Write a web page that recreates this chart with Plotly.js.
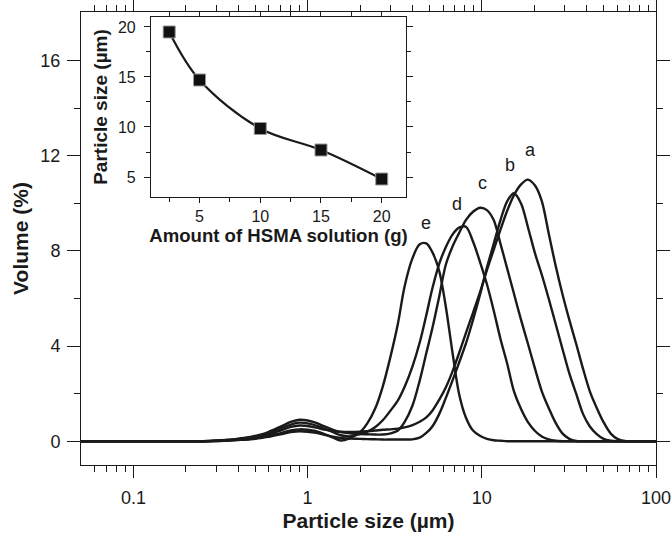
<!DOCTYPE html>
<html>
<head>
<meta charset="utf-8">
<script src="https://cdn.plot.ly/plotly-3.0.1.min.js"></script>
<style>html,body{margin:0;padding:0;background:#fff;}#chart{width:672px;height:534px;}</style>
</head>
<body>
<div id="chart"></div>
<script>
// Particle size grid (µm)
const sizes = [0.05,0.1,0.2,0.25,0.3,0.35,0.4,0.47,0.55,0.6,0.7,0.8,0.9,1.0,1.12,1.25,1.4,1.55,1.74,2.0,
  2.2,2.45,2.7,3.0,3.3,3.6,4.0,4.4,4.8,5.2,5.7,6.2,6.8,7.4,8.1,8.9,9.8,10.7,11.7,12.8,
  14.0,15.3,16.8,18.4,20.2,22.1,24.2,26.5,29.0,31.8,34.8,38.1,41.7,45.7,50.0,55.0,60.0,66.0,75.0,100.0];

// Volume (%) for samples a–e
const volA = [0,0,0,0,0.02,0.04,0.08,0.13,0.22,0.29,0.45,0.6,0.66,0.64,0.57,0.49,0.43,0.4,0.39,0.4,
  0.42,0.45,0.48,0.5,0.53,0.58,0.68,0.82,1.0,1.28,1.75,2.25,2.95,3.7,4.55,5.4,6.3,7.2,8.05,8.9,
  9.7,10.35,10.8,11.0,10.75,10.1,8.75,7.4,6.2,5.1,4.1,3.05,2.1,1.4,0.8,0.32,0.1,0.01,0,0];
const volB = [0,0,0,0,0.01,0.03,0.05,0.08,0.14,0.19,0.29,0.38,0.42,0.4,0.35,0.27,0.19,0.14,0.11,0.1,
  0.09,0.08,0.07,0.07,0.07,0.07,0.08,0.15,0.35,0.62,1.15,1.8,2.57,3.3,4.1,5.1,6.2,7.3,8.3,9.3,
  10.1,10.43,10.0,9.0,7.9,7.0,6.0,4.95,3.9,2.85,2.0,1.15,0.62,0.3,0.1,0.02,0,0,0,0];
const volC = [0,0,0,0,0.02,0.06,0.11,0.18,0.3,0.4,0.61,0.81,0.9,0.87,0.77,0.62,0.48,0.38,0.33,0.3,
  0.29,0.28,0.28,0.33,0.45,0.8,1.5,2.55,3.7,4.75,6.1,7.4,8.2,8.75,9.3,9.65,9.82,9.72,9.3,8.3,
  7.25,6.2,5.1,4.1,3.05,2.1,1.4,0.78,0.33,0.1,0.01,0,0,0,0,0,0,0,0,0];
const volD = [0,0,0,0,0.02,0.05,0.09,0.15,0.26,0.35,0.53,0.7,0.78,0.75,0.66,0.52,0.38,0.25,0.2,0.3,
  0.4,0.6,0.88,1.3,1.72,2.28,3.15,4.15,5.3,6.42,7.47,8.15,8.7,8.98,9.02,8.4,7.5,6.6,5.5,4.3,
  3.25,2.1,1.35,0.8,0.43,0.2,0.08,0.02,0,0,0,0,0,0,0,0,0,0,0,0];
const volE = [0,0,0,0,0.01,0.03,0.06,0.1,0.17,0.23,0.34,0.45,0.5,0.48,0.42,0.3,0.15,0.03,0.12,0.38,
  0.75,1.4,2.3,3.6,4.95,6.5,7.7,8.28,8.32,7.95,7.15,5.7,3.69,2.0,1.0,0.45,0.22,0.1,0.04,0.02,
  0,0,0,0,0,0,0,0,0,0,0,0,0,0,0,0,0,0,0,0];

// Curve labels
const labelNames = ['a','b','c','d','e'];
const labelX = [18.97, 14.5, 10.07, 7.24, 4.75];
const labelY = [12.25, 11.62, 10.86, 9.98, 9.18];

// Inset data
const hsmaAmount = [2.5, 5, 10, 15, 20];
const insetSize = [19.5, 14.7, 9.85, 7.7, 4.8];

// Tick labels
const mainXTicks = [0.1, 1, 10, 100];
const mainXTickText = ['0.1', '1', '10', '100'];
const mainXMinor = [0.06,0.07,0.08,0.09,0.2,0.3,0.4,0.5,0.6,0.7,0.8,0.9,2,3,4,5,6,7,8,9,20,30,40,50,60,70,80,90];
const mainYTicks = [0, 4, 8, 12, 16];
const mainYMinor = [2, 6, 10, 14];
const insetXTicks = [5, 10, 15, 20];
const insetXMinor = [2.5, 7.5, 12.5, 17.5];
const insetYTicks = [5, 10, 15, 20];
const insetYMinor = [7.5, 12.5, 17.5];

const ink = '#1a1a1a';
const series = [volA, volB, volC, volD, volE];
const traces = series.map(v => ({
  x: sizes, y: v, type: 'scatter', mode: 'lines',
  line: {color: ink, width: 2.4, shape: 'spline', smoothing: 0.9},
  xaxis: 'x', yaxis: 'y', hoverinfo: 'skip'
}));
traces.push({
  x: hsmaAmount, y: insetSize, type: 'scatter', mode: 'lines+markers',
  line: {color: ink, width: 2.2, shape: 'spline', smoothing: 1},
  marker: {symbol: 'square', size: 12, color: '#111', line: {color: '#999', width: 1}},
  xaxis: 'x2', yaxis: 'y2', hoverinfo: 'skip'
});

const font = 'Liberation Sans, Arial, Helvetica, sans-serif';
const axisCommon = {
  showline: true, linecolor: ink, linewidth: 1, mirror: 'ticks',
  ticks: 'outside', tickcolor: ink, tickwidth: 1,
  showgrid: false, zeroline: false
};

const layout = {
  width: 672, height: 534,
  margin: {l: 81, r: 16, t: 12, b: 69},
  paper_bgcolor: '#fff', plot_bgcolor: '#fff',
  showlegend: false,
  font: {family: font, color: ink},
  xaxis: Object.assign({}, axisCommon, {
    type: 'log', range: [Math.log10(0.05), 2],
    tickmode: 'array', tickvals: mainXTicks, ticktext: mainXTickText,
    ticklen: 12, tickfont: {size: 18}, ticklabelstandoff: 4,
    minor: {tickmode: 'array', tickvals: mainXMinor, ticks: 'outside', ticklen: 6, tickcolor: ink, tickwidth: 1, showgrid: false},
    title: {text: '<b>Particle size (µm)</b>', font: {size: 21}, standoff: 6}
  }),
  yaxis: Object.assign({}, axisCommon, {
    range: [-1, 18.05],
    tickmode: 'array', tickvals: mainYTicks,
    ticklen: 13, tickfont: {size: 18}, ticklabelstandoff: 3,
    minor: {tickmode: 'array', tickvals: mainYMinor, ticks: 'outside', ticklen: 6, tickcolor: ink, tickwidth: 1, showgrid: false},
    title: {text: '<b>Volume (%)</b>', font: {size: 21}, standoff: 6}
  }),
  xaxis2: Object.assign({}, axisCommon, {
    domain: [0.1217, 0.5652], anchor: 'y2', range: [1, 22],
    tickmode: 'array', tickvals: insetXTicks, ticklen: 5, tickfont: {size: 16},
    minor: {tickmode: 'array', tickvals: insetXMinor, ticks: 'outside', ticklen: 4, tickcolor: ink, tickwidth: 1, showgrid: false},
    title: {text: '<b>Amount of HSMA solution (g)</b>', font: {size: 18.6}, standoff: 3}
  }),
  yaxis2: Object.assign({}, axisCommon, {
    domain: [0.5916, 0.989], anchor: 'x2', range: [3, 21],
    tickmode: 'array', tickvals: insetYTicks, ticklen: 6, tickfont: {size: 16}, ticklabelstandoff: 5,
    minor: {tickmode: 'array', tickvals: insetYMinor, ticks: 'outside', ticklen: 4, tickcolor: ink, tickwidth: 1, showgrid: false},
    title: {text: '<b>Particle size (µm)</b>', font: {size: 19}, standoff: 5}
  }),
  annotations: labelNames.map((t, i) => ({
    x: Math.log10(labelX[i]), y: labelY[i], xref: 'x', yref: 'y',
    text: t, showarrow: false, font: {size: 18, family: font, color: ink}
  }))
};

Plotly.newPlot('chart', traces, layout, {displayModeBar: false, staticPlot: true});
</script>
</body>
</html>
